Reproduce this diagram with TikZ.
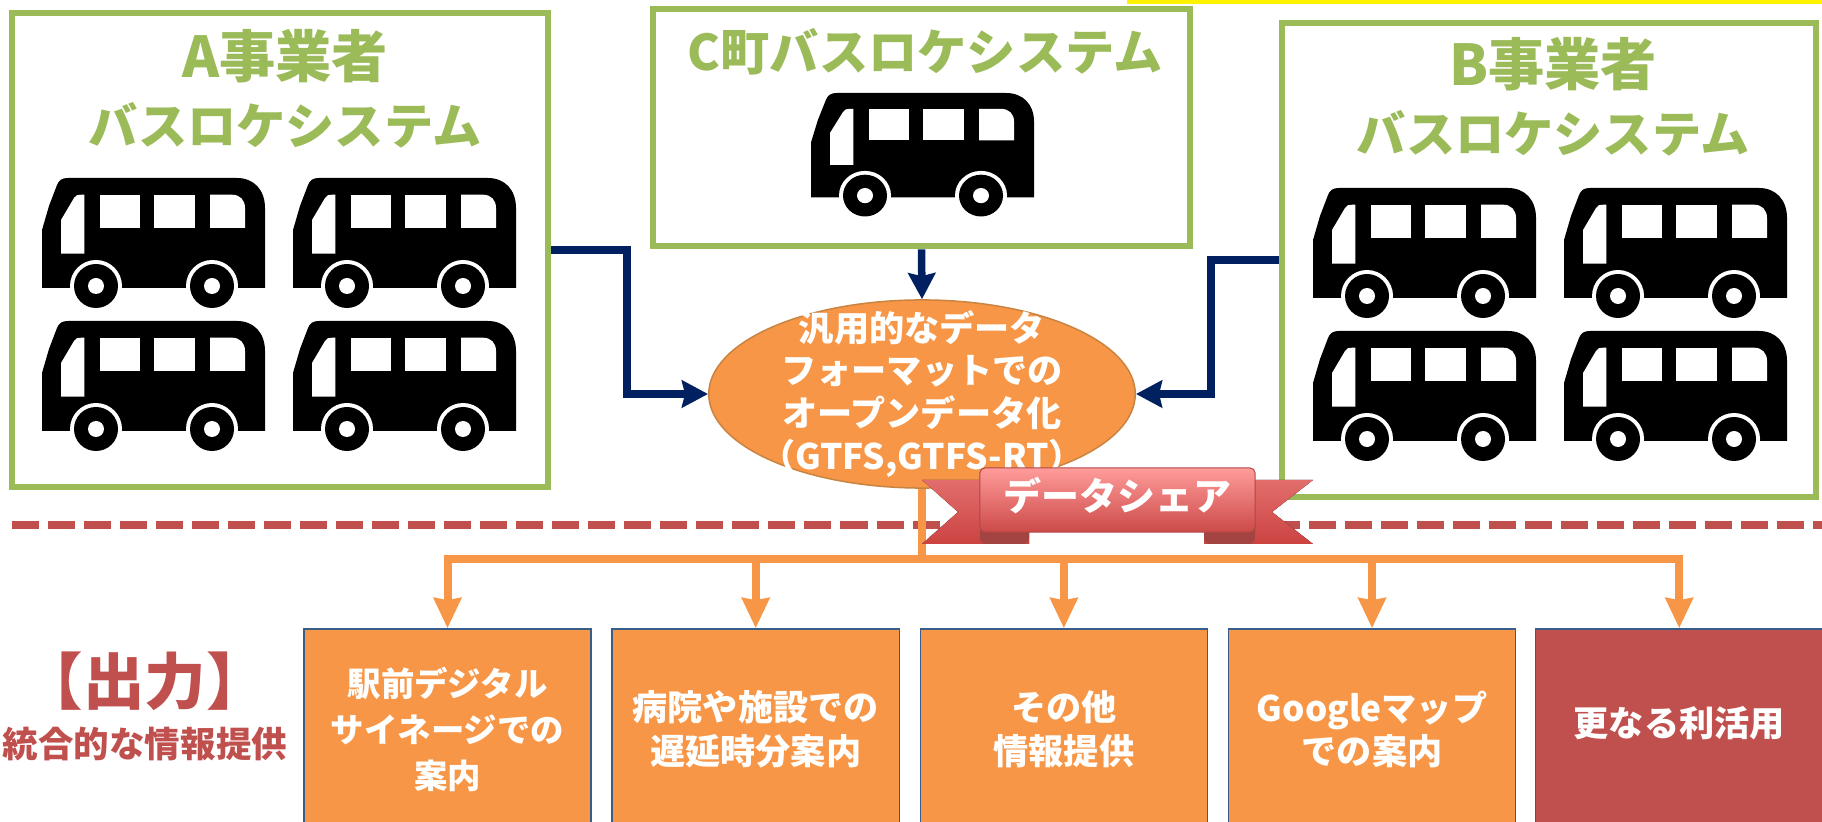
\documentclass[tikz,border=0pt]{standalone}
\usepackage{fontspec}
\setmainfont{Noto Sans CJK JP}
\usepackage{xcolor}
\usetikzlibrary{positioning,arrows.meta,shapes.geometric}
\definecolor{olive}{HTML}{9BBB59}
\definecolor{navy}{HTML}{002060}
\definecolor{amber}{HTML}{F79646}
\definecolor{brick}{HTML}{C0504D}
\definecolor{steel}{HTML}{385D8A}
\definecolor{tailtop}{HTML}{E26E6C}
\definecolor{tailend}{HTML}{CB4341}
\definecolor{tagtop}{HTML}{FF9C9A}
\definecolor{tagend}{HTML}{CC4A48}
\newcommand{\Fs}[2]{\fontsize{#1}{#2}\selectfont}
\tikzset{
  sysbox/.style={draw=olive,line width=.65mm,fill=white,inner sep=0pt},
  systext/.style={text=olive,font=\Fs{14}{19}\bfseries,align=center,inner sep=0pt},
  outbox/.style={draw=steel,line width=.15mm,fill=amber,text=white,
    minimum width=28.7mm,minimum height=20.1mm,align=center,font=\Fs{10}{12.4}\bfseries},
  feed/.style={draw=navy,line width=.75mm,
    -{Stealth[length=2.6mm,width=2.7mm,inset=.3mm]}},
  share/.style={draw=amber,line width=.8mm},
  tail/.style={top color=tailtop,bottom color=tailend},
  busicon/.pic={
    \fill[black] (0,110) -- (0,52) -- (7,28) -- (15,7) .. controls (17,2) and (20,0) .. (26,0)
      -- (195,0) .. controls (212,0) and (223,12) .. (223,30) -- (223,110) -- cycle;
    \fill[white] (58.3,16.7) rectangle (98.3,50);
    \fill[white] (111.7,16.7) rectangle (153.3,50);
    \fill[white] (168,16.7) -- (190,16.7) .. controls (198,16.7) and (203,22) .. (203,30)
      -- (203,50) -- (168,50) -- cycle;
    \fill[white] (19,75.7) -- (19,42) -- (32,20) .. controls (33,17) and (35,16.7) .. (42.3,16.7)
      -- (42.3,75.7) -- cycle;
    \foreach \wx in {54,170} {
      \fill[white] (\wx,108) circle (26);
      \fill[black] (\wx,108) circle (22);
      \fill[white] (\wx,108) circle (8);
    }
  }
}
\begin{document}
\begin{tikzpicture}[x=.01cm,y=-.01cm]
  \useasboundingbox (0,0) rectangle (1822,822);
  \fill[yellow] (1127,0) rectangle (1822,4);

  \node[sysbox,minimum width=53.6mm,minimum height=47.4mm] (box_a) at (280,250) {};
  \node[sysbox,minimum width=53.7mm,minimum height=23.7mm] (box_c) at (921.5,127.5) {};
  \node[sysbox,minimum width=53.4mm,minimum height=47.4mm] (box_b) at (1549,260) {};

  \node[systext] (name_a) at (285,89) {{\Fs{16}{19}\bfseries A事業者}\\バスロケシステム};
  \node[systext] (name_c) at (925,52) {C町バスロケシステム};
  \node[systext] (name_b) at (1553,97) {{\Fs{16}{19}\bfseries B事業者}\\バスロケシステム};

  % buses
  \foreach \bx/\by in {42/178,293/178,42/321,293/321,1313/188,1564/188,1313/331,1564/331}
    \pic at (\bx,\by) {busicon};
  \pic[yscale=.95] at (811,93) {busicon};

  \node[ellipse,draw=brown!80!amber,line width=.15mm,fill=amber,text=white,
    inner xsep=-1.1mm,inner ysep=-1.9mm,
    minimum width=42.6mm,minimum height=18.8mm,align=center,font=\Fs{10}{12.2}\bfseries]
    (hub) at (922,394) {汎用的なデータ\\フォーマットでの\\オープンデータ化\\（GTFS,GTFS-RT）};

  \coordinate (bend_a) at (627,320);
  \coordinate (bend_b) at (1211,330);
  \draw[feed] (box_a.east) -| (bend_a) |- (hub.west);
  \draw[feed] (box_b.west) -| (bend_b) |- (hub.east);
  \draw[feed] (box_c.south) -- (hub.north);

  % divider
  \coordinate (rule_l) at (12,525);
  \coordinate (rule_r) at (1822,525);
  \draw[brick,line width=.85mm,dash pattern=on 2.7mm off .9mm] (rule_l) -- (rule_r);

  % output row
  \node[outbox,font=\Fs{9.5}{13.2}\bfseries] (out_0) at (447.5,729.5) {駅前デジタル\\サイネージでの\\案内};
  \node[outbox,right=1.95mm of out_0] (out_1) {病院や施設での\\遅延時分案内};
  \node[outbox,right=1.95mm of out_1] (out_2) {その他\\情報提供};
  \node[outbox,right=1.95mm of out_2] (out_3) {Googleマップ\\での案内};
  \node[outbox,right=1.85mm of out_3,fill=brick] (out_4) {\raisebox{1.6mm}{更なる利活用}};

  \coordinate (tee) at (922,559);
  \draw[share] (hub.south) -- (tee);
  \foreach \n in {0,...,4}
    \draw[share,-{Stealth[length=3mm,width=2.7mm,inset=.2mm]}] (tee) -| (out_\n.north);

  \node[text=brick,font=\Fs{17.5}{20}\bfseries,inner sep=0pt] (out_title) at (145,681) {【出力】};
  \node[text=brick,font=\Fs{10.1}{13}\bfseries,inner sep=0pt,below=6.3mm of out_title.center,anchor=center]
    (out_sub) {統合的な情報提供};

  % ribbon
  \fill[tail] (1000,480) -- (922,480) -- (958,512) -- (922,544) -- (1029,544) -- (1029,500) -- cycle;
  \fill[tail] (1235,480) -- (1313,480) -- (1272,512) -- (1313,544) -- (1204,544) -- (1204,500) -- cycle;
  \fill[brick!85!black,rounded corners=.6mm] (980,520) rectangle (1029,544);
  \fill[brick!85!black,rounded corners=.6mm] (1204,520) rectangle (1255,544);
  \node[draw=brick!90!black,line width=.1mm,rounded corners=.5mm,top color=tagtop,bottom color=tagend,
    minimum width=27.5mm,minimum height=6.4mm,text=white,inner sep=0pt,
    font=\Fs{10.8}{13}\bfseries] (tag) at (1117.5,500) {\raisebox{1.2mm}{データシェア}};
\end{tikzpicture}
\end{document}
